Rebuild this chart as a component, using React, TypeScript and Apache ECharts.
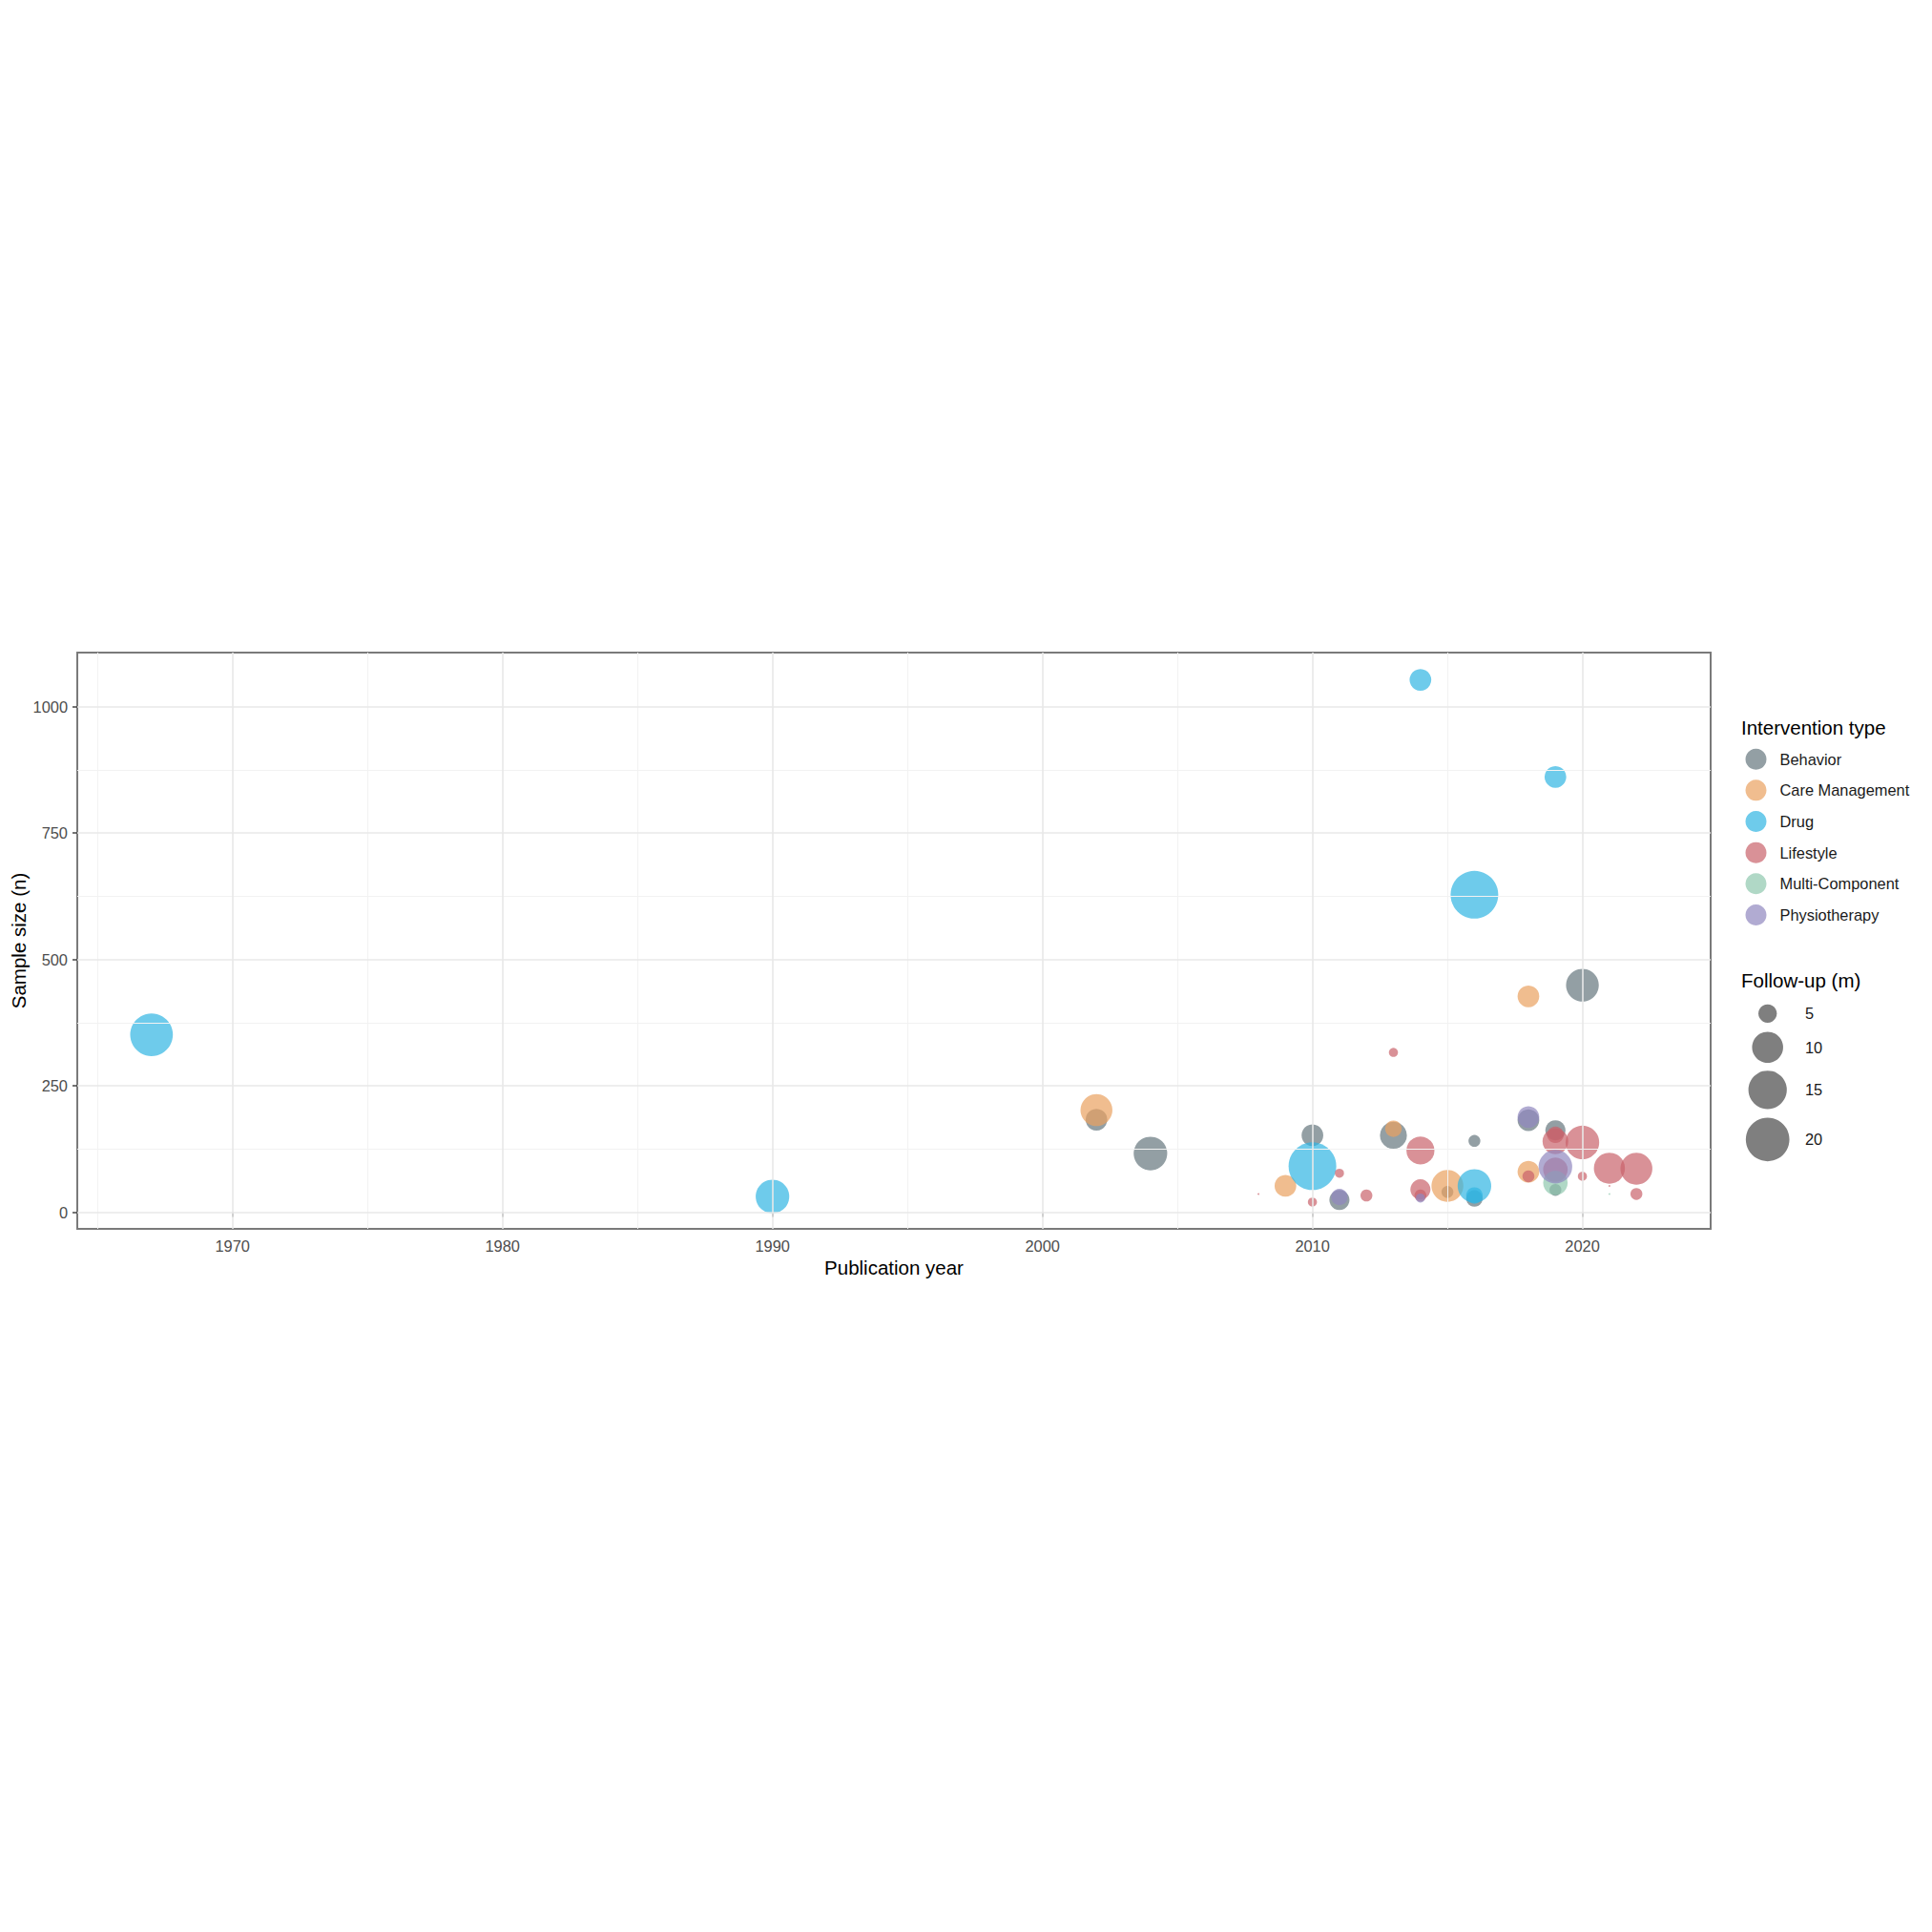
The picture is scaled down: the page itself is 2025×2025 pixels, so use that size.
import React, { useEffect, useRef } from "react";
import * as echarts from "echarts";

const FONT = "'Liberation Sans', Arial, Helvetica, sans-serif";

const TYPES = ["Behavior", "Care Management", "Drug", "Lifestyle", "Multi-Component", "Physiotherapy"];
const COLORS = ["#65767E", "#EAA15F", "#30B5E2", "#C9626B", "#8EC7AE", "#9087BF"];

// [publication year, sample size (n), follow-up (months)]
const behavior = [
  [2002, 183, 6], [2004, 116, 11.5], [2010, 152, 6], [2011, 24, 5.5], [2013, 152, 8],
  [2015, 40, 3.5], [2016, 141, 3.5], [2016, 27, 4.5], [2018, 182, 6], [2019, 162, 5.5],
  [2019, 44, 3.5], [2020, 449, 11],
];
const careManagement = [
  [2002, 202, 10.5], [2009, 52, 6], [2013, 165, 4.5], [2015, 52, 10.5], [2018, 427, 6], [2018, 80, 6],
];
const drug = [
  [1967, 351, 19], [1990, 31, 11.5], [2010, 91, 25], [2014, 1053, 6], [2016, 628, 25],
  [2016, 52, 11.5], [2016, 33, 4.5], [2019, 861, 6],
];
const lifestyle = [
  [2008, 36, 2], [2010, 20, 3], [2011, 77, 3], [2012, 33, 3.5], [2013, 316, 3],
  [2014, 122, 8.5], [2014, 45, 5.5], [2014, 33, 3.5], [2018, 71, 3.5], [2019, 140, 7.5],
  [2019, 153, 4.5], [2019, 84, 7], [2020, 138, 11.5], [2020, 71, 3], [2021, 87, 10],
  [2021, 52, 2], [2022, 86, 10.5], [2022, 36, 3.5],
];
const multiComponent = [[2019, 58, 7], [2021, 36, 2]];
const physiotherapy = [[2011, 30, 4.5], [2014, 28, 3], [2018, 188, 6], [2019, 90, 11.5]];

const SERIES_DATA = [behavior, careManagement, drug, lifestyle, multiComponent, physiotherapy];

const X_TICKS = [1970, 1980, 1990, 2000, 2010, 2020];
const X_MINOR = [1965, 1975, 1985, 1995, 2005, 2015];
const Y_TICKS = [0, 250, 500, 750, 1000];
const Y_MINOR = [125, 375, 625, 875];
const SIZE_BREAKS = [5, 10, 15, 20];

const X_MIN = 1964.25;
const X_MAX = 2024.75;
const Y_MIN = -33;
const Y_MAX = 1107;

// log-scaled bubble diameter for follow-up months
const sizeFn = (f: number) => Math.max(1.5, 19.3 + 19.05 * Math.log(f / 5));

export default function App() {
  const ref = useRef<HTMLDivElement>(null);

  useEffect(() => {
    if (!ref.current) return;
    const chart = echarts.init(ref.current, null, { renderer: "svg" });

    const gridLines = {
      type: "scatter",
      data: [],
      silent: true,
      z: 0,
      markLine: {
        silent: true,
        symbol: ["none", "none"],
        label: { show: false },
        animation: false,
        data: [
          ...X_MINOR.map((v) => ({ xAxis: v, lineStyle: { color: "#f2f2f2", width: 1, type: "solid" } })),
          ...Y_MINOR.map((v) => ({ yAxis: v, lineStyle: { color: "#f2f2f2", width: 1, type: "solid" } })),
          ...X_TICKS.map((v) => ({ xAxis: v, lineStyle: { color: "#e8e8e8", width: 1.6, type: "solid" } })),
          ...Y_TICKS.map((v) => ({ yAxis: v, lineStyle: { color: "#e8e8e8", width: 1.6, type: "solid" } })),
        ],
      },
    };

    const scatterSeries = TYPES.map((name, i) => ({
      type: "scatter",
      name,
      z: 2,
      data: SERIES_DATA[i].map((d) => [d[0], d[1], d[2]]),
      symbol: "circle",
      symbolSize: (v: number[]) => sizeFn(v[2]),
      itemStyle: { color: COLORS[i], opacity: 0.7 },
      emphasis: { disabled: true },
    }));

    const sizeY = [1062.3, 1097.7, 1142.3, 1194.3];
    const graphics: any[] = [
      {
        type: "text",
        x: 937,
        y: 1328,
        style: { text: "Publication year", font: `20.5px ${FONT}`, fill: "#000", align: "center", verticalAlign: "middle" },
      },
      {
        type: "text",
        x: 19.5,
        y: 986,
        rotation: Math.PI / 2,
        style: { text: "Sample size (n)", font: `20.5px ${FONT}`, fill: "#000", align: "center", verticalAlign: "middle" },
      },
      {
        type: "text",
        x: 1825,
        y: 762,
        style: { text: "Intervention type", font: `20.5px ${FONT}`, fill: "#000", align: "left", verticalAlign: "middle" },
      },
      {
        type: "text",
        x: 1825,
        y: 1027.7,
        style: { text: "Follow-up (m)", font: `20.5px ${FONT}`, fill: "#000", align: "left", verticalAlign: "middle" },
      },
      ...SIZE_BREAKS.map((v, i) => ({
        type: "circle",
        shape: { cx: 1852.7, cy: sizeY[i], r: sizeFn(v) / 2 },
        style: { fill: "#7f7f7f" },
      })),
      ...SIZE_BREAKS.map((v, i) => ({
        type: "text",
        x: 1892,
        y: sizeY[i],
        style: { text: String(v), font: `16.4px ${FONT}`, fill: "#1a1a1a", align: "left", verticalAlign: "middle" },
      })),
    ];

    const plain = (v: number) => String(v);

    chart.setOption({
      animation: false,
      backgroundColor: "#ffffff",
      textStyle: { fontFamily: FONT },
      grid: {
        left: 81,
        top: 684,
        width: 1712,
        height: 604,
        show: true,
        borderColor: "#7a7a7a",
        borderWidth: 2,
        backgroundColor: "transparent",
      },
      xAxis: {
        type: "value",
        min: X_MIN,
        max: X_MAX,
        axisLine: { show: false },
        axisTick: { show: true, customValues: X_TICKS, length: 5, lineStyle: { color: "#444", width: 1.5 } },
        axisLabel: { customValues: X_TICKS, formatter: plain, color: "#4d4d4d", fontSize: 16.4, margin: 10, fontFamily: FONT },
        splitLine: { show: false },
      },
      yAxis: {
        type: "value",
        min: Y_MIN,
        max: Y_MAX,
        axisLine: { show: false },
        axisTick: { show: true, customValues: Y_TICKS, length: 5, lineStyle: { color: "#444", width: 1.5 } },
        axisLabel: { customValues: Y_TICKS, formatter: plain, color: "#4d4d4d", fontSize: 16.4, margin: 10, fontFamily: FONT },
        splitLine: { show: false },
      },
      legend: {
        data: TYPES,
        orient: "vertical",
        left: 1829.5,
        top: 784.7,
        padding: 0,
        itemWidth: 22,
        itemHeight: 22,
        itemGap: 10.65,
        icon: "circle",
        selectedMode: false,
        textStyle: { fontSize: 16.4, color: "#1a1a1a", fontFamily: FONT, padding: [0, 0, 0, 9] },
      },
      graphic: graphics,
      series: [gridLines, ...scatterSeries],
    });

    return () => chart.dispose();
  }, []);

  return (
    <div
      ref={ref}
      style={{ position: "absolute", left: 0, top: 0, width: "2025px", height: "2025px", background: "#fff" }}
    />
  );
}
